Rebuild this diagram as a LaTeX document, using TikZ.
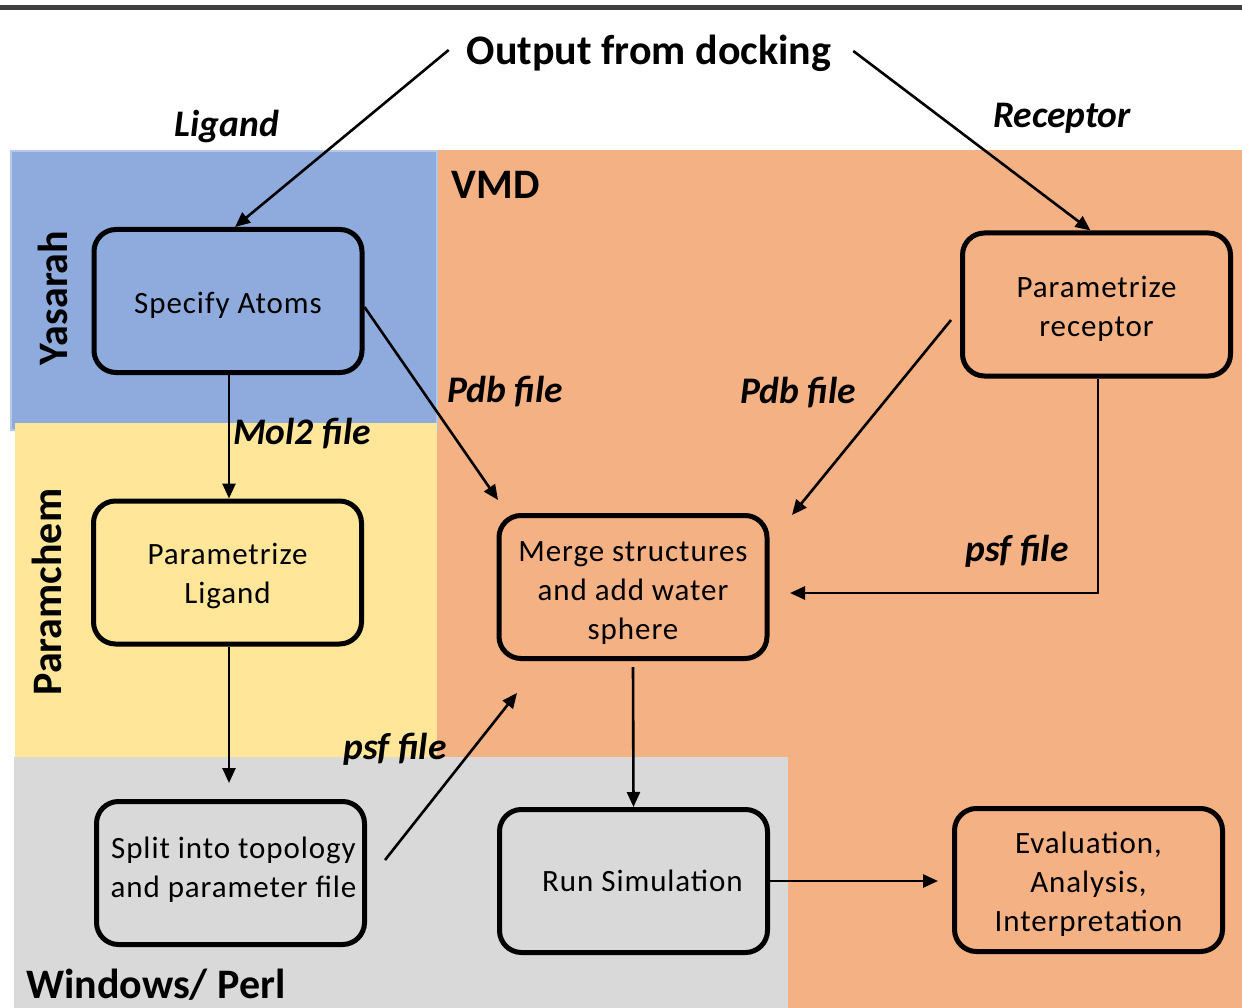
\documentclass[tikz,border=0pt]{standalone}
\usepackage{fontspec}
\setmainfont{Carlito}
\usetikzlibrary{arrows.meta}
\definecolor{vmdorange}{HTML}{F4B183}
\definecolor{yasblue}{HTML}{8FAADC}
\definecolor{yasedge}{HTML}{B4C7E7}
\definecolor{paryellow}{HTML}{FFE699}
\definecolor{wingray}{HTML}{D9D9D9}
\definecolor{topline}{HTML}{3F3F3F}
\begin{document}
\begin{tikzpicture}[x=1pt,y=-1pt,
  box/.style={draw=black, line width=5pt, rounded corners=22pt, minimum width=268pt, minimum height=143pt, inner sep=0pt},
  boxtext/.style={align=center, font=\fontsize{31}{39}\selectfont\addfontfeatures{LetterSpace=3}, inner sep=0pt},
  flow/.style={line width=2.6pt, -{Triangle[length=15pt,width=13pt]}},
  lbl/.style={font=\fontsize{37.5}{42}\selectfont\bfseries\itshape, inner sep=0pt},
  head/.style={font=\fontsize{42}{46}\selectfont\bfseries, inner sep=0pt}]
\useasboundingbox (0,0) rectangle (1242,1008);
\fill[white] (0,0) rectangle (1242,1008);
\fill[topline] (0,5) rectangle (1242,10);
% regions
\fill[vmdorange] (437,150) rectangle (1242,1008);
\filldraw[fill=yasblue, draw=yasedge, line width=2pt] (11,151) rectangle (437,430);
\fill[paryellow] (15,423) rectangle (437,757);
\fill[wingray] (14,757) rectangle (788,1008);
% region headings
\node[head] (vmd) at (496,185) {VMD};
\node[head, rotate=90] (yas) at (53,298) {Yasarah};
\node[head, rotate=90] (par) at (47,592) {Paramchem};
\node[head, anchor=west] (win) at (26,985) {Windows/ Perl};
\node[head] (dock) at (649,53) {Output from docking};
% boxes
\node[box, fill=yasblue] (SA) at (228,301) {};
\node[box, fill=paryellow] (PL) at (227.5,572.5) {};
\node[box, fill=wingray] (SP) at (230.5,873) {};
\node[box, fill=vmdorange] (MS) at (633,587) {};
\node[box, fill=wingray] (RS) at (633.5,881) {};
\node[box, fill=vmdorange] (PR) at (1096.5,304.5) {};
\node[box, fill=vmdorange] (EV) at (1088.5,880) {};
% box texts
\node[boxtext] (SAt) at ([yshift=-4pt]SA.center) {Specify Atoms};
\node[boxtext] (PLt) at ([yshift=-3pt]PL.center) {Parametrize\\Ligand};
\node[boxtext] (SPt) at ([xshift=3pt,yshift=3pt]SP.center) {Split into topology\\and parameter file};
\node[boxtext] (MSt) at ([yshift=-6pt]MS.center) {Merge structures\\and add water\\sphere};
\node[boxtext] (RSt) at ([xshift=9pt]RS.center) {Run Simulation};
\node[boxtext] (PRt) at ([yshift=-4pt]PR.center) {Parametrize\\receptor};
\node[boxtext] (EVt) at ([yshift=-4pt]EV.center) {Evaluation,\\Analysis,\\Interpretation};
% labels
\node[lbl] (lig) at (227,127) {Ligand};
\node[lbl] (rec) at (1062,118) {Receptor};
\node[lbl] (pdb1) at (505,392) {Pdb file};
\node[lbl] (pdb2) at (798,393) {Pdb file};
\node[lbl] (mol2) at (302,434) {Mol2 file};
\node[lbl] (psf1) at (1017,551) {psf file};
\node[lbl] (psf2) at (395,749) {psf file};
% free ends
\coordinate (msA) at (498,500);
\coordinate (msB) at (792,515);
\coordinate (msC) at (790,593);
\coordinate (msD) at (517,693);
\coordinate (spin) at (229,783);
\coordinate (spout) at (385,860);
\coordinate (prout) at (951,320);
\coordinate (evin) at (938,881);
% connectors
\draw[flow] ([xshift=-18pt,yshift=3pt]dock.west) -- ([xshift=7pt]SA.north);
\draw[flow] ([xshift=22pt,yshift=2pt]dock.east) -- ([xshift=-6pt]PR.north);
\draw[flow] ([yshift=-6pt]SA.east) -- (msA);
\draw[flow] ([xshift=1pt]SA.south) -- ([xshift=1pt]SA.south |- PL.north);
\draw[flow] ([xshift=1.5pt]PL.south) -- (spin);
\draw[flow] (spout) -- (msD);
\draw[flow] (prout) -- (msB);
\draw[flow] ([xshift=1.5pt]PR.south) |- (msC);
\draw[flow] ([yshift=-6pt]MS.south) -- (RS.north);
\draw[flow] (RS.east) -- (evin);
\end{tikzpicture}
\end{document}
